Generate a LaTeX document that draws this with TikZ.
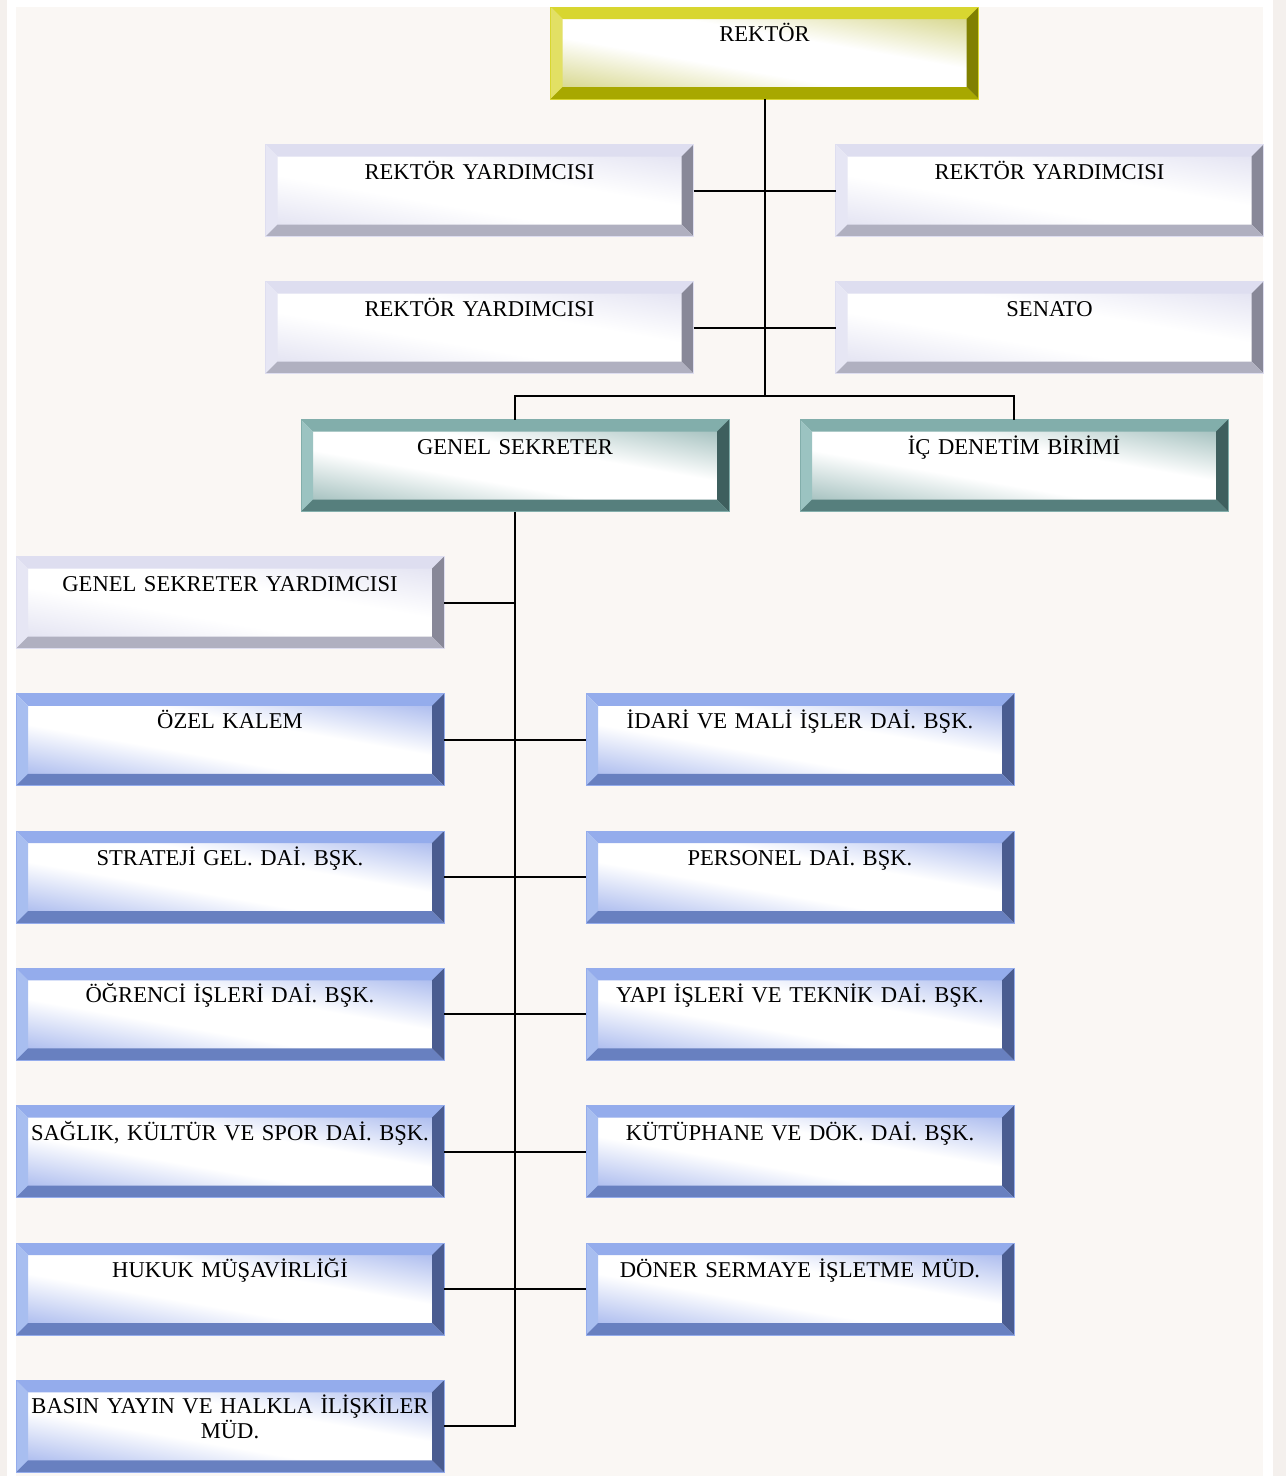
\documentclass[tikz,border=0pt]{standalone}
\usepackage{fontspec}
\setmainfont{Liberation Serif}
\usepackage{xcolor}
\definecolor{pagebg}{RGB}{250,247,244}
\definecolor{sidebg}{RGB}{244,240,237}
\definecolor{yeltop}{RGB}{216,214,48}
\definecolor{yelleft}{RGB}{226,224,100}
\definecolor{yelright}{RGB}{128,128,0}
\definecolor{yelbot}{RGB}{168,168,0}
\definecolor{yeltint}{RGB}{190,190,70}
\definecolor{lavtop}{RGB}{222,222,240}
\definecolor{lavleft}{RGB}{230,230,244}
\definecolor{lavright}{RGB}{136,136,152}
\definecolor{lavbot}{RGB}{176,176,192}
\definecolor{lavtint}{RGB}{210,210,234}
\definecolor{teltop}{RGB}{130,174,171}
\definecolor{telleft}{RGB}{155,195,193}
\definecolor{telright}{RGB}{62,95,94}
\definecolor{telbot}{RGB}{86,127,125}
\definecolor{teltint}{RGB}{108,154,151}
\definecolor{blutop}{RGB}{148,172,236}
\definecolor{bluleft}{RGB}{168,190,240}
\definecolor{bluright}{RGB}{74,92,144}
\definecolor{blubot}{RGB}{104,128,192}
\definecolor{blutint}{RGB}{120,146,228}
\usepackage{tikz}
\usetikzlibrary{positioning}
\pgfdeclareverticalshading{yelface}{100bp}{color(0bp)=(yeltint); color(14bp)=(yeltint); color(43bp)=(white); color(57bp)=(white); color(86bp)=(yeltint); color(100bp)=(yeltint)}
\pgfdeclareverticalshading{lavface}{100bp}{color(0bp)=(lavtint); color(14bp)=(lavtint); color(43bp)=(white); color(57bp)=(white); color(86bp)=(lavtint); color(100bp)=(lavtint)}
\pgfdeclareverticalshading{telface}{100bp}{color(0bp)=(teltint); color(14bp)=(teltint); color(43bp)=(white); color(57bp)=(white); color(86bp)=(teltint); color(100bp)=(teltint)}
\pgfdeclareverticalshading{bluface}{100bp}{color(0bp)=(blutint); color(14bp)=(blutint); color(43bp)=(white); color(57bp)=(white); color(86bp)=(blutint); color(100bp)=(blutint)}
\newcommand{\lnk}[2]{\draw[link] (#1) -- (#2)}

\begin{document}
\begin{tikzpicture}[
      x=1pt, y=-1pt,
      bevel/.style n args={4}{path picture={
        \path (path picture bounding box.north west) coordinate (pnw)
              (path picture bounding box.north east) coordinate (pne)
              (path picture bounding box.south west) coordinate (psw)
              (path picture bounding box.south east) coordinate (pse);
        \path ([shift={(12,12)}]pnw) coordinate (qnw)
              ([shift={(-12,12)}]pne) coordinate (qne)
              ([shift={(12,-12)}]psw) coordinate (qsw)
              ([shift={(-12,-12)}]pse) coordinate (qse);
        \fill[#1] (pnw) -- (pne) -- (qne) -- (qnw) -- cycle;
        \fill[#2] (pnw) -- (qnw) -- (qsw) -- (psw) -- cycle;
        \fill[#3] (pne) -- (pse) -- (qse) -- (qne) -- cycle;
        \fill[#4] (psw) -- (qsw) -- (qse) -- (pse) -- cycle;}},
      unit/.style={rectangle,minimum width=428pt,minimum height=92pt,inner sep=0pt,outer sep=0pt,
        text width=420pt,align=center,text height=14pt,text depth=37pt,
        font=\fontsize{22.6}{25.5}\selectfont,line width=0.8pt,shade,shading angle=-10},
      rektor/.style={unit,draw=yeltop,shading=yelface,bevel={yeltop}{yelleft}{yelright}{yelbot}},
      vice/.style={unit,draw=lavtop,shading=lavface,bevel={lavtop}{lavleft}{lavright}{lavbot}},
      secr/.style={unit,draw=teltop,shading=telface,bevel={teltop}{telleft}{telright}{telbot}},
      dept/.style={unit,draw=blutop,shading=bluface,bevel={blutop}{bluleft}{bluright}{blubot}},
      link/.style={line width=2pt,black}]

      % page
      \useasboundingbox (0,0) rectangle (1286,1476);
      \fill[white] (0,0) rectangle (1286,1476);
      \fill[sidebg] (0,0) rectangle (7,1476);
      \fill[sidebg] (1273,0) rectangle (1286,1476);
      \fill[pagebg] (16,7) rectangle (1263,1476);

      % Define nodes
      \node[rektor] (REK) at (764.5,53) {REKTÖR};
      \node[vice] (RY1) at (479.5,190.5) {REKTÖR YARDIMCISI};
      \node[vice,right=142pt of RY1] (RY2) {REKTÖR YARDIMCISI};
      \node[vice,below=45pt of RY1] (RY3) {REKTÖR YARDIMCISI};
      \node[vice,below=45pt of RY2] (SEN) {SENATO};
      \node[secr] (GS) at (515,465.5) {GENEL SEKRETER};
      \node[secr,right=71pt of GS] (ICD) {İÇ DENETİM BİRİMİ};
      \node[vice] (GSY) at (230,602.5) {GENEL SEKRETER YARDIMCISI};
      \node[dept,below=45.3pt of GSY] (OK) {ÖZEL KALEM};
      \node[dept,below=45.3pt of OK] (SGD) {STRATEJİ GEL. DAİ. BŞK.};
      \node[dept,below=45.3pt of SGD] (OID) {ÖĞRENCİ İŞLERİ DAİ. BŞK.};
      \node[dept,below=45.3pt of OID] (SKS) {SAĞLIK, KÜLTÜR VE SPOR DAİ. BŞK.};
      \node[dept,below=45.3pt of SKS] (HUK) {HUKUK MÜŞAVİRLİĞİ};
      \node[dept,below=45.3pt of HUK,text depth=40pt] (BAS) {BASIN YAYIN VE HALKLA İLİŞKİLER\\MÜD.};
      \node[dept,right=142pt of OK] (IMD) {İDARİ VE MALİ İŞLER DAİ. BŞK.};
      \node[dept,right=142pt of SGD] (PER) {PERSONEL DAİ. BŞK.};
      \node[dept,right=142pt of OID] (YTD) {YAPI İŞLERİ VE TEKNİK DAİ. BŞK.};
      \node[dept,right=142pt of SKS] (KDD) {KÜTÜPHANE VE DÖK. DAİ. BŞK.};
      \node[dept,right=142pt of HUK] (DSM) {DÖNER SERMAYE İŞLETME MÜD.};
      \coordinate (bus) at (764.5,396);

      % Draw paths
      \draw[link] (REK.south) -- (bus);
      \draw[link] (GS.north) |- (bus) -| (ICD.north);
      \lnk{RY1.east}{RY2.west};
      \lnk{RY3.east}{SEN.west};
      \draw[link] (GS.south) |- (BAS.east);
      \lnk{GSY.east}{GSY.east -| GS.south};
      \lnk{OK.east}{IMD.west};
      \lnk{SGD.east}{PER.west};
      \lnk{OID.east}{YTD.west};
      \lnk{SKS.east}{KDD.west};
      \lnk{HUK.east}{DSM.west};

\end{tikzpicture}
\end{document}
